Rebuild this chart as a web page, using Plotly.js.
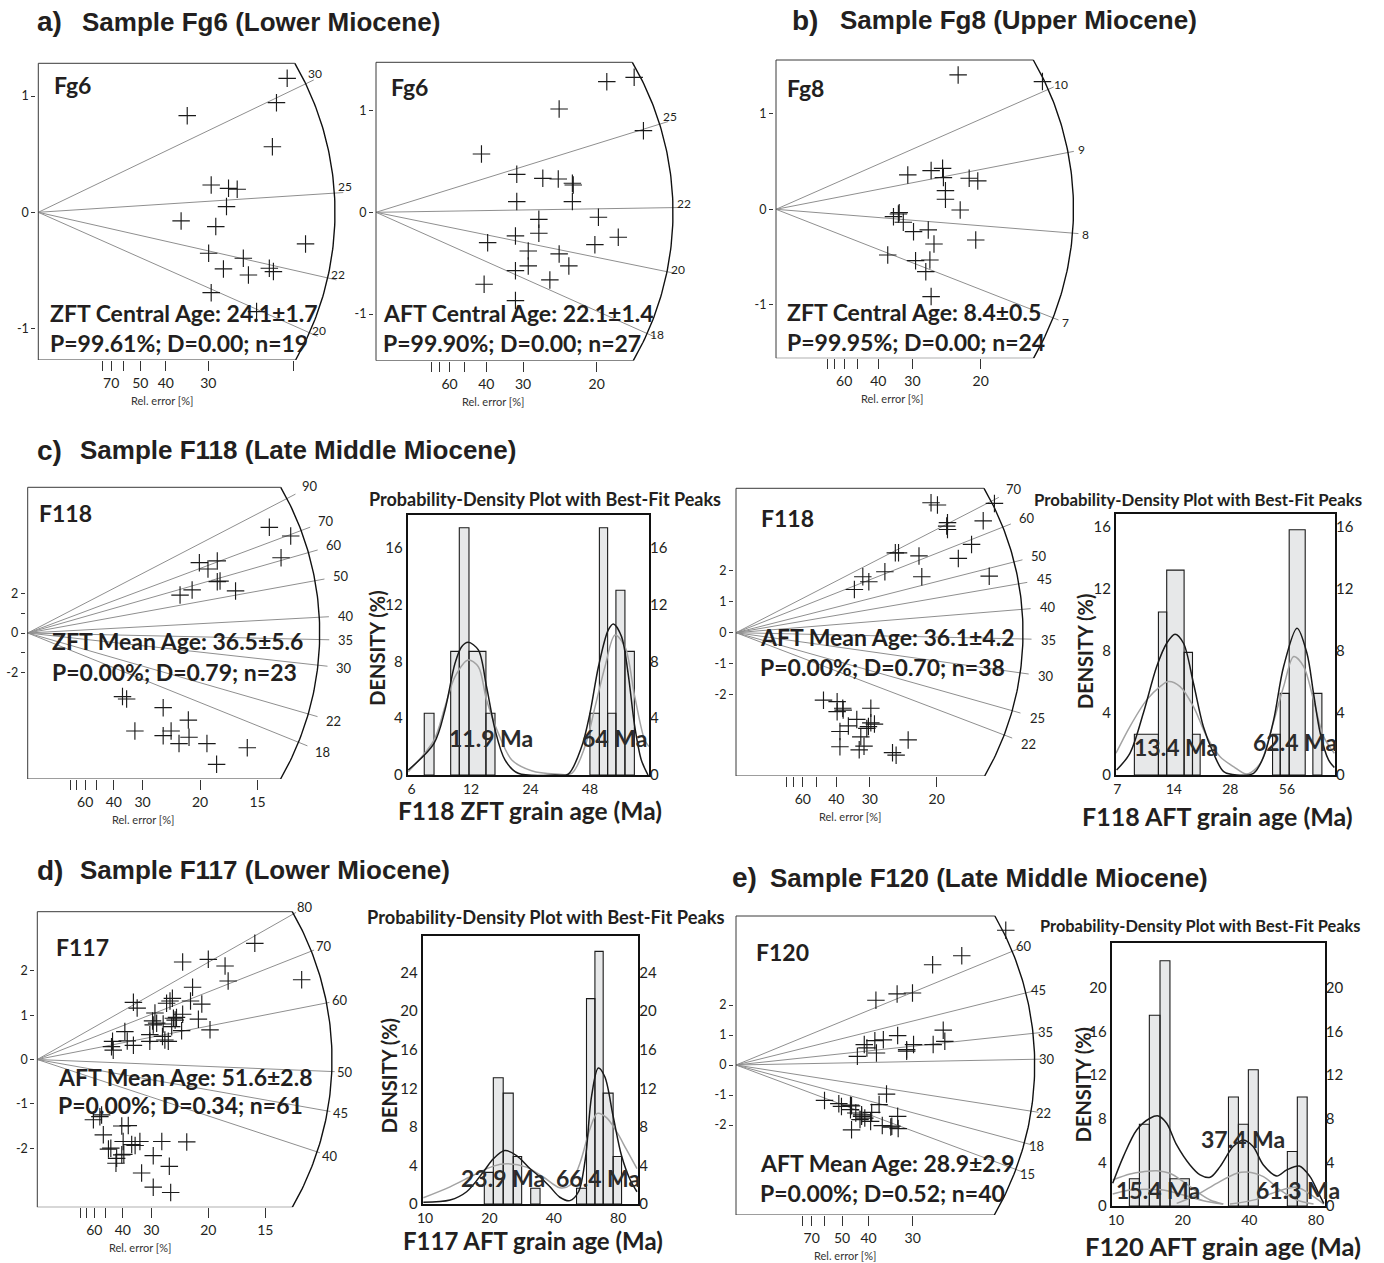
<!DOCTYPE html>
<html><head><meta charset="utf-8">
<script src="https://cdn.plot.ly/plotly-3.0.1.min.js"></script>
<style>html,body{margin:0;padding:0;background:#fff}#g{width:1384px;height:1263px}</style>
</head><body><div id="g"></div>
<script>
// ===================== DATA =====================
// --- a) Fg6 ZFT radial plot (x = precision 1/sigma, y = standardised estimate)
const fg6zftPrec = [4.88,4.67,2.92,4.59,3.39,3.73,3.90,3.69,2.80,3.48,5.24,3.34,4.02,3.63,4.12,4.53,4.61,3.39,4.28];
const fg6zftZ    = [1.152,0.943,0.831,0.564,0.235,0.206,0.198,0.049,-0.074,-0.123,-0.272,-0.352,-0.395,-0.487,-0.539,-0.481,-0.510,-0.691,-0.854];
const fg6zftAgeLines = [30,25,22,20];
const fg6zftRefAge = 24.3;
const fg6zftRelTicks = [80,70,60,50,40,30,20];
const fg6zftRelLabels = ['','70','','50','40','30',''];
const fg6zftZTicks = [1,0,-1];
const fg6zftZLabels = ['1','0','-1'];
const fg6zftStats = ['ZFT Central Age: 24.1±1.7','P=99.61%; D=0.00; n=19'];

// --- a) Fg6 AFT radial plot
const fg6aftPrec = [5.85,5.23,4.15,6.06,2.39,3.19,3.78,4.13,4.45,3.19,4.45,3.69,5.04,3.69,3.16,5.49,2.53,3.45,4.15,4.96,3.45,4.37,3.16,3.94,2.45,3.16,4.47];
const fg6aftZ    = [1.326,1.283,1.015,0.802,0.573,0.373,0.334,0.327,0.285,0.105,0.105,-0.069,-0.049,-0.206,-0.232,-0.245,-0.298,-0.380,-0.409,-0.318,-0.527,-0.527,-0.573,-0.664,-0.707,-0.867,0.268];
const fg6aftAgeLines = [25,22,20,18];
const fg6aftRefAge = 21.85;
const fg6aftRelTicks = [80,70,60,50,40,30,20];
const fg6aftRelLabels = ['','','60','','40','30','20'];
const fg6aftZTicks = [1,0,-1];
const fg6aftZLabels = ['1','0','-1'];
const fg6aftStats = ['AFT Central Age: 22.1±1.4','P=99.90%; D=0.00; n=27'];

// --- b) Fg8 ZFT radial plot
const fg8Prec = [4.45,6.51,3.22,3.79,4.07,4.09,4.72,4.93,4.14,4.14,4.50,2.99,2.87,3.11,3.36,3.72,3.86,4.88,2.73,3.41,3.76,3.66,3.79,3.01];
const fg8Z    = [1.407,1.337,0.360,0.405,0.429,0.332,0.325,0.297,0.195,0.105,-0.007,-0.049,-0.077,-0.136,-0.234,-0.216,-0.363,-0.321,-0.478,-0.538,-0.531,-0.653,-0.914,-0.035];
const fg8AgeLines = [10,9,8,7];
const fg8RefAge = 8.28;
const fg8RelTicks = [80,70,60,50,40,30,20];
const fg8RelLabels = ['','','60','','40','30','20'];
const fg8ZTicks = [1,0,-1];
const fg8ZLabels = ['1','0','-1'];
const fg8Stats = ['ZFT Central Age: 8.4±0.5','P=99.95%; D=0.00; n=24'];

// --- c) F118 ZFT radial plot
const f118zftPrec = [7.01,7.63,7.35,4.98,5.50,5.23,5.50,5.58,4.77,4.42,6.03,2.75,2.87,3.93,4.66,3.11,4.16,3.93,4.68,4.39,5.20,6.37,5.48];
const f118zftZ    = [5.35,4.91,3.81,3.56,3.65,3.24,2.60,2.63,2.18,1.92,2.13,-3.22,-3.34,-3.78,-4.41,-4.96,-4.96,-5.20,-5.28,-5.60,-5.60,-5.81,-6.65];
const f118zftAgeLines = [90,70,60,50,40,35,30,22,18];
const f118zftRefAge = 36.4;
const f118zftRelTicks = [80,70,60,50,40,30,20,15];
const f118zftRelLabels = ['','','60','','40','30','20','15'];
const f118zftZTicks = [2,1,0,-1,-2];
const f118zftZLabels = ['2','','0','','-2'];
const f118zftStats = ['ZFT Mean Age: 36.5±5.6','P=0.00%; D=0.79; n=23'];

// --- c) F118 AFT radial plot
const f118aftPrec = [4.86,5.02,6.44,5.27,5.27,6.16,5.87,3.97,4.05,4.56,5.54,3.71,3.16,3.31,2.95,4.63,6.31,2.18,2.52,2.52,2.66,3.36,3.01,2.80,2.59,3.36,3.45,3.26,3.11,3.19,4.29,2.59,3.07,3.90,3.99,5.25,2.67,3.30];
const f118aftZ    = [4.18,4.11,4.16,3.54,3.32,3.60,2.84,2.57,2.57,2.47,2.39,1.96,1.80,1.64,1.39,1.80,1.82,-2.17,-2.22,-2.54,-2.43,-2.43,-2.79,-3.00,-3.18,-2.90,-2.94,-3.08,-3.35,-3.65,-3.45,-3.67,-3.77,-3.86,-3.94,3.43,-2.49,-3.02];
const f118aftAgeLines = [70,60,50,45,40,35,30,25,22];
const f118aftRefAge = 36.0;
const f118aftRelTicks = [80,70,60,50,40,30,20];
const f118aftRelLabels = ['','','60','','40','30','20'];
const f118aftZTicks = [2,1,0,-1,-2];
const f118aftZLabels = ['2','1','0','-1','-2'];
const f118aftStats = ['AFT Mean Age: 36.1±4.2','P=0.00%; D=0.70; n=38'];

// --- d) F117 AFT radial plot
const f117Prec = [6.36,4.25,5.00,5.49,5.58,7.73,4.54,2.81,2.92,4.48,3.78,3.88,3.95,4.81,3.44,3.98,4.03,4.07,4.25,3.37,3.39,3.68,4.71,3.93,4.22,5.05,2.56,3.29,3.66,3.73,3.83,2.63,2.81,2.20,2.17,2.22,3.29,3.49,1.64,1.88,1.93,2.15,2.47,2.66,2.51,2.76,3.00,2.86,3.64,4.37,2.32,2.30,2.53,3.39,3.86,3.05,3.39,3.90,2.47,2.08,1.83];
const f117Z    = [2.62,2.20,2.26,2.11,1.77,1.80,1.63,1.29,1.16,1.32,1.27,1.32,1.38,1.25,1.05,0.93,0.89,0.95,1.02,0.87,0.78,0.80,0.91,0.74,0.65,0.67,0.63,0.56,0.52,0.44,0.41,0.42,0.32,0.41,0.29,0.21,0.41,0.82,-1.36,-1.25,-1.70,-2.00,-1.50,-1.49,-1.85,-1.92,-1.85,-1.94,-1.85,-1.86,-2.23,-2.34,-2.14,-2.17,-2.41,-2.56,-2.88,-3.00,-2.15,-2.02,-1.29];
const f117AgeLines = [80,70,60,50,45,40];
const f117RefAge = 51.6;
const f117RelTicks = [80,70,60,50,40,30,20,15];
const f117RelLabels = ['','','60','','40','30','20','15'];
const f117ZTicks = [2,1,0,-1,-2];
const f117ZLabels = ['2','1','0','-1','-2'];
const f117Stats = ['AFT Mean Age: 51.6±2.8','P=0.00%; D=0.34; n=61'];

// --- e) F120 AFT radial plot
const f120Prec = [5.09,4.26,3.71,2.64,3.04,3.33,3.91,3.94,2.42,2.47,2.62,2.78,3.05,3.35,3.22,3.72,2.29,2.65,1.67,1.94,2.16,2.16,2.26,2.37,2.84,2.70,2.56,2.43,2.34,3.05,2.54,2.76,2.92,3.06,2.18,2.37,2.18,1.99,3.22,2.94];
const f120Z    = [4.49,3.64,3.34,2.16,2.37,2.40,1.16,0.79,0.68,0.57,0.81,0.84,0.98,0.68,0.46,0.68,0.29,0.40,-1.18,-1.29,-1.34,-1.49,-1.60,-1.66,-0.97,-1.32,-1.58,-1.77,-1.82,-1.71,-1.88,-2.02,-2.07,-2.12,-2.16,-1.71,-1.36,-1.38,0.51,-2.04];
const f120AgeLines = [60,45,35,30,22,18,15];
const f120RefAge = 29.0;
const f120RelTicks = [80,70,60,50,40,30];
const f120RelLabels = ['','70','','50','40','30'];
const f120ZTicks = [2,1,0,-1,-2];
const f120ZLabels = ['2','1','0','-1','-2'];
const f120Stats = ['AFT Mean Age: 28.9±2.9','P=0.00%; D=0.52; n=40'];

// --- PDP: F118 ZFT
const f118zftBarLo = [6.95,9.46,10.46,11.71,14.27,48.0,53.6,59.0,65.0,72.2];
const f118zftBarHi = [7.79,10.46,11.71,14.27,15.86,53.6,59.0,65.0,72.2,80.6];
const f118zftBarH  = [4.35,8.70,17.4,8.70,4.35,4.35,17.4,4.35,13.0,8.70];
const f118zftPdpAge  = [5.77,7.79,8.85,9.95,10.75,11.61,13.06,14.38,15.86,17.82,20.8,31.9,37.3,43.6,48.0,53.0,59.4,63.1,69.4,74.9,81.0,87.4,94.5];
const f118zftPdpDens = [0.35,2.23,4.57,7.86,9.03,9.34,8.8,6.2,3.2,1.06,0.12,0,0.07,2.0,4.34,7.62,10.2,10.63,9.74,7.16,3.4,1.06,0];
const f118zftFitAge  = [5.77,7.79,8.85,9.95,11.61,13.06,14.38,16.5,19.3,24.3,31.9,38.8,45.3,51.0,57.2,64.3,72.2,81.0,90.9,95.6];
const f118zftFitDens = [0.23,2.46,4.81,6.92,8.09,7.62,5.28,2.93,1.06,0.3,0.07,0.12,2.0,4.81,7.62,9.85,9.03,5.51,2.46,2.0];
const f118zftPeaks = ['11.9 Ma','64 Ma'];
const f118zftAgeTicks = [6,12,24,48];
const f118zftDensTicks = [0,4,8,12,16];
const f118zftXTitle = 'F118 ZFT grain age (Ma)';

// --- PDP: F118 AFT
const f118aftBarLo = [8.63,11.59,12.83,15.88,17.60,46.97,51.6,57.6,77.0];
const f118aftBarHi = [11.59,12.83,15.88,17.60,19.33,51.6,57.6,70.1,86.0];
const f118aftBarH  = [2.63,10.5,13.2,7.9,2.63,2.63,5.26,15.8,5.26];
const f118aftPdpAge  = [6.94,8.17,9.63,11.35,12.83,14.21,15.76,17.81,20.1,22.76,25.8,30.3,37.2,42.1,47.6,53.8,63.4,71.6,77.6,84.3,93.3,100.2];
const f118aftPdpDens = [0.32,1.40,3.98,6.99,8.49,9.07,8.49,5.91,3.12,1.40,0.22,0,0.11,1.18,3.55,6.99,9.46,7.85,5.27,2.69,0.97,0.49];
const f118aftFitAge  = [6.89,8.17,10.04,11.82,13.10,15.12,17.81,20.96,24.7,29.1,34.3,40.4,45.7,53.8,60.9,68.8,77.6,87.8,100.2];
const f118aftFitDens = [1.40,3.12,4.84,5.70,6.02,5.70,4.41,2.47,1.18,0.54,0.06,0.75,2.69,5.70,7.63,6.99,4.84,2.47,1.40];
const f118aftPeaks = ['13.4 Ma','62.4 Ma'];
const f118aftAgeTicks = [7,14,28,56];
const f118aftDensTicks = [0,4,8,12,16];
const f118aftXTitle = 'F118 AFT grain age (Ma)';

// --- PDP: F117 AFT
const f117BarLo = [18.93,20.86,23.2,25.85,31.2,51.1,56.9,62.3,68.1,75.8];
const f117BarHi = [20.86,23.2,25.85,28.3,34.5,56.9,62.3,68.1,75.8,83.0];
const f117BarH  = [3.28,13.1,11.5,4.92,1.64,1.64,21.3,26.2,11.5,4.92];
const f117PdpAge  = [9.82,13.09,15.65,18.73,20.86,23.6,26.8,31.0,34.5,38.4,42.7,47.6,52.2,56.2,60.1,64.6,69.3,75.8,83.0,90.7,98.0];
const f117PdpDens = [0.17,0.41,1.27,3.32,4.69,5.54,5.03,3.66,2.80,1.78,0.7,0.35,1.27,4.69,11.2,14.1,13.2,9.1,5.0,2.6,1.27];
const f117FitAge  = [9.82,13.09,16.8,20.86,24.1,29.8,35.7,42.7,47.6,53.2,59.0,63.9,70.6,79.1,87.2,98.0];
const f117FitDens = [0.65,1.78,2.98,3.93,4.17,3.83,2.80,1.68,1.95,4.34,7.76,9.4,8.96,7.42,5.71,3.66];
const f117Peaks = ['23.9 Ma','66.4 Ma'];
const f117AgeTicks = [10,20,40,80];
const f117DensTicks = [0,4,8,12,16,20,24];
const f117XTitle = 'F117 AFT grain age (Ma)';

// --- PDP: F120 AFT
const f120BarLo = [11.49,12.75,14.14,15.80,17.52,32.2,35.7,39.6,59.4,65.9];
const f120BarHi = [12.75,14.14,15.80,17.52,21.44,35.7,39.6,43.9,65.9,73.0];
const f120BarH  = [2.5,7.5,17.5,22.5,2.5,10,7.5,12.5,5,10];
const f120PdpAge  = [9.66,10.79,12.40,14.24,15.53,16.93,18.79,21.58,23.97,26.6,29.5,33.8,37.6,41.6,46.3,53.2,59.0,67.3,75.2,82.2,86.8];
const f120PdpDens = [2.08,4.53,6.98,8.05,8.26,7.59,5.60,3.76,2.85,2.63,3.61,5.45,6.06,5.45,3.76,2.75,3.31,3.67,2.69,1.16,0.24];
const f120Comp1Age  = [9.66,11.57,13.29,15.26,17.52,20.14,23.16,26.6,30.5];
const f120Comp1Dens = [2.39,2.94,3.15,3.24,3.00,2.23,1.32,0.55,0.18];
const f120Comp2Age  = [18.79,23.16,28.5,35.1,38.9,46.3,55.0,65.5,78.0];
const f120Comp2Dens = [0.24,1.01,2.08,3.00,3.12,2.69,1.47,0.55,0.18];
const f120Comp3Age  = [9.66,11.57,13.76,16.36,20.14,24.8,30.5];
const f120Comp3Dens = [1.10,1.47,1.53,1.47,1.01,0.49,0.18];
const f120Comp4Age  = [32.7,43.1,53.2,65.5,78.0,86.8];
const f120Comp4Dens = [0.18,0.61,1.32,1.71,0.86,0.18];
const f120Peaks = ['15.4 Ma','37.4 Ma','61.3 Ma'];
const f120AgeTicks = [10,20,40,80];
const f120DensTicks = [0,4,8,12,16,20];
const f120XTitle = 'F120 AFT grain age (Ma)';

const pdpTitle = 'Probability-Density Plot with Best-Fit Peaks';
const headings = [
  ['a)','Sample Fg6 (Lower Miocene)'],
  ['b)','Sample Fg8 (Upper Miocene)'],
  ['c)','Sample F118 (Late Middle Miocene)'],
  ['d)','Sample F117 (Lower Miocene)'],
  ['e)','Sample F120 (Late Middle Miocene)']
];

// ===================== LAYOUT / STYLE =====================
const W = 1384, H = 1263;
const FONT = 'Lato, "Open Sans", sans-serif';
const HFONT = '"Liberation Sans", Arial, sans-serif';
const TXT = '#231f20';
const traces = [], annotations = [];
const layout = {
  width: W, height: H, margin: {l:0, r:0, t:0, b:0},
  paper_bgcolor: '#ffffff', plot_bgcolor: 'rgba(0,0,0,0)',
  showlegend: false, font: {family: FONT, color: TXT}, annotations: annotations
};
function ann(x, y, text, o) {
  annotations.push(Object.assign({
    xref:'paper', yref:'paper', x:x/W, y:1-y/H, text:text, showarrow:false,
    xanchor:'center', yanchor:'middle', font:{family:FONT, size:12, color:TXT}
  }, o || {}));
}

function radial(n, g, d) {
  const sfx = n === 1 ? '' : String(n);
  const xr = 'x' + sfx, yr = 'y' + sfx;
  const left = g.ox - 2, right = g.ox + g.R * 1.07, top = g.top - 24, bot = g.bot;
  layout['xaxis' + sfx] = {
    domain:[left/W, right/W], range:[(left-g.ox)/g.sx, (right-g.ox)/g.sx], anchor:yr,
    showgrid:false, zeroline:false, showline:false, tickmode:'array',
    tickvals:d.relTicks.map(r => 100/r), ticktext:d.relLabels,
    ticks:'outside', ticklen:10, tickwidth:1, tickcolor:'#333',
    tickfont:{family:FONT, size:14, color:TXT}, fixedrange:true
  };
  layout['yaxis' + sfx] = {
    domain:[1-bot/H, 1-top/H], range:[(g.oy-bot)/g.sy, (g.oy-top)/g.sy], anchor:xr,
    showgrid:false, zeroline:false, showline:false, tickmode:'array',
    tickvals:d.zTicks, ticktext:d.zLabels, ticks:'outside', ticklen:4, tickwidth:1, tickcolor:'#333',
    tickfont:{family:FONT, size:12.5, color:TXT}, fixedrange:true
  };
  const yT = (g.oy - g.top)/g.sy, yB = (g.oy - g.bot)/g.sy;
  const thT = Math.asin((g.oy - g.top)/g.R), thB = Math.asin((g.bot - g.oy)/g.R);
  const xT = g.R*Math.cos(thT)/g.sx, xB = g.R*Math.cos(thB)/g.sx;
  // radial age lines
  const lx = [], ly = [];
  d.ages.forEach(t => {
    const s = Math.log(t/d.t0);
    const phi = Math.atan2(g.sy*s, g.sx);
    const r = g.lineExt*g.R;
    lx.push(0, r*Math.cos(phi)/g.sx, null);
    ly.push(0, r*Math.sin(phi)/g.sy, null);
    const rl = g.labelR*g.R;
    ann(g.ox + rl*Math.cos(phi), g.oy - rl*Math.sin(phi) - g.labelDy, String(t),
        {font:{family:FONT, size:g.lblSize, color:TXT}});
  });
  traces.push({type:'scatter', mode:'lines', x:lx, y:ly, xaxis:xr, yaxis:yr,
    line:{color:'#8f8f8f', width:1}, hoverinfo:'skip'});
  // box
  traces.push({type:'scatter', mode:'lines', x:[xT,0,0,xB], y:[yT,yT,yB,yB], xaxis:xr, yaxis:yr,
    line:{color:'#3a3a3a', width:1}, hoverinfo:'skip'});
  // arc
  const ax = [], ay = [];
  for (let i = 0; i <= 90; i++) {
    const th = -thB + (thT + thB)*i/90;
    ax.push(g.R*Math.cos(th)/g.sx); ay.push(g.R*Math.sin(th)/g.sy);
  }
  traces.push({type:'scatter', mode:'lines', x:ax, y:ay, xaxis:xr, yaxis:yr,
    line:{color:'#111', width:1.4}, hoverinfo:'skip'});
  // grains
  traces.push({type:'scatter', mode:'markers', x:d.x, y:d.y, xaxis:xr, yaxis:yr, cliponaxis:false,
    marker:{symbol:'cross-thin', size:12.5, line:{width:1.15, color:'#1a1a1a'}}, hoverinfo:'skip'});
  // texts
  ann(g.nameX, g.nameY, '<b>' + d.name + '</b>', {xanchor:'left', font:{family:FONT, size:23, color:TXT}});
  ann(g.statX, g.statY1, '<b>' + d.stats[0] + '</b>', {xanchor:'left', font:{family:FONT, size:23, color:TXT}});
  ann(g.statX, g.statY2, '<b>' + d.stats[1] + '</b>', {xanchor:'left', font:{family:FONT, size:23, color:TXT}});
  ann(g.relX, g.relY, 'Rel. error [%]', {font:{family:FONT, size:11, color:'#333'}});
}

function pdp(n, nr, g, d) {
  const s = String(n), sr = String(nr);
  const xr = 'x' + s, yr = 'y' + s, yrr = 'y' + sr;
  const tf = {family:FONT, size:15, color:TXT};
  const tfx = {family:FONT, size:14, color:TXT};
  layout['xaxis' + s] = {type:'log', domain:[g.l/W, g.r/W], range:[Math.log10(g.x0), Math.log10(g.x1)], anchor:yr,
    tickmode:'array', tickvals:d.xTicks, ticktext:d.xTicks.map(String), showline:true, mirror:true,
    linewidth:2, linecolor:'#111', ticks:'', showgrid:false, zeroline:false, tickfont:tfx, fixedrange:true};
  layout['yaxis' + s] = {domain:[1-g.b/H, 1-g.t/H], range:[0, g.y1], anchor:xr, tickmode:'array',
    tickvals:d.yTicks, ticktext:d.yTicks.map(String), showline:true, mirror:true, linewidth:2, linecolor:'#111',
    ticks:'', showgrid:false, zeroline:false, tickfont:tf, fixedrange:true};
  layout['yaxis' + sr] = {overlaying:yr, side:'right', anchor:xr, range:[0, g.y1], tickmode:'array',
    tickvals:d.yTicks, ticktext:d.yTicks.map(String), showline:false, showgrid:false, zeroline:false,
    ticks:'', tickfont:tf, fixedrange:true};
  // bars
  const bx = [], by = [];
  d.lo.forEach((lo, i) => {
    const hi = d.hi[i], h = d.h[i];
    bx.push(lo, lo, hi, hi, lo, null); by.push(0, h, h, 0, 0, null);
  });
  traces.push({type:'scatter', mode:'lines', x:bx, y:by, xaxis:xr, yaxis:yr, fill:'toself',
    fillcolor:'#e7e8e9', line:{color:'#1a1a1a', width:1.1}, hoverinfo:'skip'});
  // fitted components (grey) and PDP (black)
  d.grey.forEach(c => traces.push({type:'scatter', mode:'lines', x:c[0], y:c[1], xaxis:xr, yaxis:yr,
    line:{color:'#a3a3a3', width:1.5, shape:'spline', smoothing:0.9}, hoverinfo:'skip'}));
  traces.push({type:'scatter', mode:'lines', x:d.pdpX, y:d.pdpY, xaxis:xr, yaxis:yr,
    line:{color:'#1a1a1a', width:1.5, shape:'spline', smoothing:0.9}, hoverinfo:'skip'});
  traces.push({type:'scatter', mode:'markers', x:[d.xTicks[0]], y:[0], xaxis:xr, yaxis:yrr,
    marker:{opacity:0}, hoverinfo:'skip'});
  // texts
  ann(g.titleX, g.titleY, '<b>' + pdpTitle + '</b>', {font:{family:FONT, size:g.titleSize, color:TXT}});
  ann(g.xtX, g.xtY, '<b>' + d.xTitle + '</b>', {font:{family:FONT, size:g.xtSize, color:TXT}});
  ann(g.denX, g.denY, '<b>DENSITY (%)</b>', {textangle:-90, font:{family:FONT, size:20, color:TXT}});
  d.peaks.forEach((p, i) => ann(g.peakPos[i][0], g.peakPos[i][1], '<b>' + p + '</b>',
    {font:{family:FONT, size:23, color:'#2b2b2b'}}));
}

// ===================== BUILD =====================
radial(1, {ox:38.3, oy:212.3, top:63.3, bot:360, R:296.7, sx:51, sy:116.3, lineExt:1.03, labelR:1.035, labelDy:6, lblSize:12,
  nameX:52, nameY:85, statX:48, statY1:313, statY2:343, relX:161.7, relY:400},
  {x:fg6zftPrec, y:fg6zftZ, ages:fg6zftAgeLines, t0:fg6zftRefAge, relTicks:fg6zftRelTicks, relLabels:fg6zftRelLabels,
   zTicks:fg6zftZTicks, zLabels:fg6zftZLabels, name:'Fg6', stats:fg6zftStats});
radial(2, {ox:376, oy:212.3, top:62.3, bot:360.7, R:297, sx:44.13, sy:101.8, lineExt:1.03, labelR:1.037, labelDy:4, lblSize:12,
  nameX:389, nameY:87, statX:381, statY1:313, statY2:343, relX:493.3, relY:401},
  {x:fg6aftPrec, y:fg6aftZ, ages:fg6aftAgeLines, t0:fg6aftRefAge, relTicks:fg6aftRelTicks, relLabels:fg6aftRelLabels,
   zTicks:fg6aftZTicks, zLabels:fg6aftZLabels, name:'Fg6', stats:fg6aftStats});
radial(3, {ox:776, oy:209.3, top:60, bot:358.3, R:297.5, sx:40.93, sy:95.5, lineExt:1.02, labelR:1.045, labelDy:0, lblSize:12,
  nameX:785, nameY:88, statX:785, statY1:312, statY2:342, relX:891.7, relY:398},
  {x:fg8Prec, y:fg8Z, ages:fg8AgeLines, t0:fg8RefAge, relTicks:fg8RelTicks, relLabels:fg8RelLabels,
   zTicks:fg8ZTicks, zLabels:fg8ZLabels, name:'Fg8', stats:fg8Stats});
radial(4, {ox:27.7, oy:633, top:487.3, bot:779, R:292, sx:34.47, sy:19.75, lineExt:1.033, labelR:1.09, labelDy:0, lblSize:13,
  nameX:37, nameY:513, statX:50, statY1:641, statY2:672, relX:143.3, relY:819},
  {x:f118zftPrec, y:f118zftZ, ages:f118zftAgeLines, t0:f118zftRefAge, relTicks:f118zftRelTicks, relLabels:f118zftRelLabels,
   zTicks:f118zftZTicks, zLabels:f118zftZLabels, name:'F118', stats:f118zftStats});
radial(5, {ox:736, oy:632.7, top:488.3, bot:776, R:287, sx:40.13, sy:31.08, lineExt:1.03, labelR:1.09, labelDy:0, lblSize:13,
  nameX:759, nameY:518, statX:758, statY1:637, statY2:667, relX:850, relY:816},
  {x:f118aftPrec, y:f118aftZ, ages:f118aftAgeLines, t0:f118aftRefAge, relTicks:f118aftRelTicks, relLabels:f118aftRelLabels,
   zTicks:f118aftZTicks, zLabels:f118aftZLabels, name:'F118', stats:f118aftStats});
radial(6, {ox:37.3, oy:1059.5, top:911.7, bot:1207.3, R:294.7, sx:34.2, sy:44.33, lineExt:1.01, labelR:1.045, labelDy:0, lblSize:13,
  nameX:54, nameY:947, statX:56, statY1:1077, statY2:1105, relX:140, relY:1247},
  {x:f117Prec, y:f117Z, ages:f117AgeLines, t0:f117RefAge, relTicks:f117RelTicks, relLabels:f117RelLabels,
   zTicks:f117ZTicks, zLabels:f117ZLabels, name:'F117', stats:f117Stats});
radial(7, {ox:736, oy:1065, top:916, bot:1215, R:298.7, sx:53, sy:30, lineExt:1.025, labelR:1.043, labelDy:0, lblSize:13,
  nameX:754, nameY:952, statX:758, statY1:1163, statY2:1193, relX:845, relY:1255},
  {x:f120Prec, y:f120Z, ages:f120AgeLines, t0:f120RefAge, relTicks:f120RelTicks, relLabels:f120RelLabels,
   zTicks:f120ZTicks, zLabels:f120ZLabels, name:'F120', stats:f120Stats});

pdp(8, 12, {l:407.7, r:649, t:515, b:775, x0:5.73, x1:95.6, y1:18.3,
  titleX:545, titleY:499, titleSize:18, xtX:529.7, xtY:810, xtSize:24.5, denX:376.7, denY:648,
  peakPos:[[490.8,738],[614.7,738]]},
  {lo:f118zftBarLo, hi:f118zftBarHi, h:f118zftBarH, pdpX:f118zftPdpAge, pdpY:f118zftPdpDens,
   grey:[[f118zftFitAge, f118zftFitDens]], peaks:f118zftPeaks, xTicks:f118zftAgeTicks, yTicks:f118zftDensTicks, xTitle:f118zftXTitle});
pdp(9, 13, {l:1116, r:1335, t:514.3, b:775, x0:6.89, x1:101, y1:16.8,
  titleX:1197.5, titleY:499, titleSize:16.8, xtX:1217.5, xtY:816, xtSize:25, denX:1085, denY:652,
  peakPos:[[1176.3,746.7],[1294.5,742.3]]},
  {lo:f118aftBarLo, hi:f118aftBarHi, h:f118aftBarH, pdpX:f118aftPdpAge, pdpY:f118aftPdpDens,
   grey:[[f118aftFitAge, f118aftFitDens]], peaks:f118aftPeaks, xTicks:f118aftAgeTicks, yTicks:f118aftDensTicks, xTitle:f118aftXTitle});
pdp(10, 14, {l:422.7, r:638.3, t:936, b:1204, x0:9.75, x1:99.4, y1:27.8,
  titleX:545.8, titleY:917, titleSize:18.3, xtX:533.3, xtY:1240, xtSize:24, denX:389.3, denY:1076,
  peakPos:[[502.5,1177.7],[597.8,1177.7]]},
  {lo:f117BarLo, hi:f117BarHi, h:f117BarH, pdpX:f117PdpAge, pdpY:f117PdpDens,
   grey:[[f117FitAge, f117FitDens]], peaks:f117Peaks, xTicks:f117AgeTicks, yTicks:f117DensTicks, xTitle:f117XTitle});
pdp(11, 15, {l:1111.7, r:1324.7, t:943.3, b:1206, x0:9.56, x1:87.6, y1:24.1,
  titleX:1200, titleY:925, titleSize:16.4, xtX:1222.5, xtY:1246, xtSize:25.5, denX:1083.3, denY:1085,
  peakPos:[[1157.5,1190],[1243.3,1139.3],[1297.5,1190]]},
  {lo:f120BarLo, hi:f120BarHi, h:f120BarH, pdpX:f120PdpAge, pdpY:f120PdpDens,
   grey:[[f120Comp1Age,f120Comp1Dens],[f120Comp2Age,f120Comp2Dens],[f120Comp3Age,f120Comp3Dens],[f120Comp4Age,f120Comp4Dens]],
   peaks:f120Peaks, xTicks:f120AgeTicks, yTicks:f120DensTicks, xTitle:f120XTitle});

// section headings
const headPos = [[35,80,22],[790,838,20],[35,78,450],[35,78,870],[730,768,878]];
headings.forEach((h, i) => {
  ann(headPos[i][0], headPos[i][2], '<b>' + h[0] + '</b>', {xanchor:'left', font:{family:HFONT, size:28, color:TXT}});
  ann(headPos[i][1], headPos[i][2], '<b>' + h[1] + '</b>', {xanchor:'left', font:{family:HFONT, size:26, color:TXT}});
});

Plotly.newPlot('g', traces, layout, {staticPlot:true});
</script>
</body></html>
